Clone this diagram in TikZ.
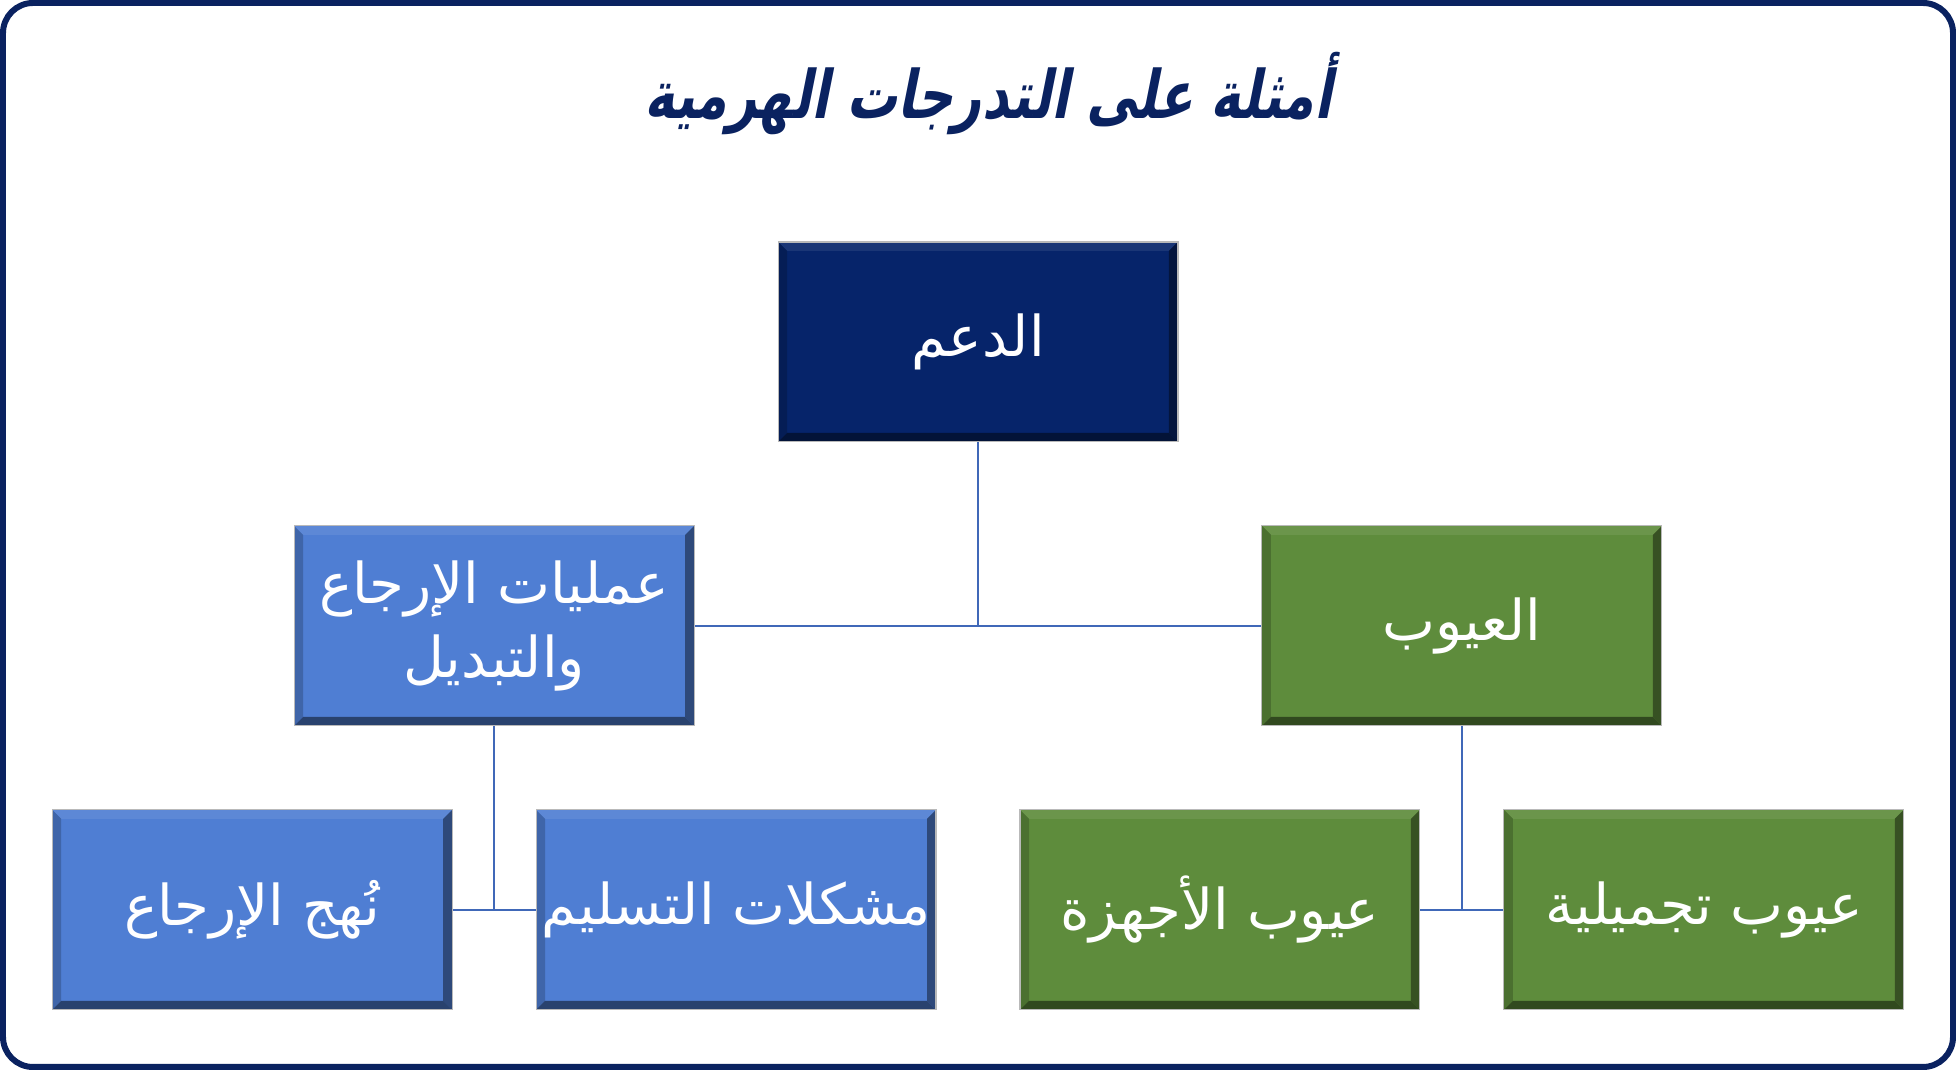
\documentclass[tikz,border=0pt]{standalone}
\usepackage{fontspec}
\usepackage{tikz}
\usetikzlibrary{calc,positioning}
\TeXXeTstate=1
\newfontfamily\arabicfont[Script=Arabic]{DejaVu Sans}
\newfontfamily\titlefont[Script=Arabic,FakeSlant=0.2,FakeStretch=0.76]{DejaVu Sans Bold}
\definecolor{navybox}{HTML}{06246A}
\definecolor{bluebox}{HTML}{4F7ED3}
\definecolor{greenbox}{HTML}{5E8C3C}
\definecolor{framenavy}{HTML}{0A2260}
\definecolor{linkblue}{HTML}{4068B8}
\tikzset{
  bevelbox/.style={draw=gray!55, line width=0.6pt, fill=#1, text=white,
    minimum width=8cm, minimum height=4cm, inner sep=0pt, align=center,
    font=\arabicfont\fontsize{32}{42}\selectfont,
    path picture={
      \fill[#1!92!white] (path picture bounding box.north west) -- (path picture bounding box.north east)
        -- ++(-0.18cm,-0.18cm) -- ($(path picture bounding box.north west)+(0.18cm,-0.18cm)$) -- cycle;
      \fill[#1!80!black] (path picture bounding box.north west) -- (path picture bounding box.south west)
        -- ++(0.18cm,0.18cm) -- ($(path picture bounding box.north west)+(0.18cm,-0.18cm)$) -- cycle;
      \fill[#1!58!black] (path picture bounding box.north east) -- (path picture bounding box.south east)
        -- ++(-0.18cm,0.18cm) -- ($(path picture bounding box.north east)+(-0.18cm,-0.18cm)$) -- cycle;
      \fill[#1!52!black] (path picture bounding box.south west) -- (path picture bounding box.south east)
        -- ++(-0.18cm,0.18cm) -- ($(path picture bounding box.south west)+(0.18cm,0.18cm)$) -- cycle;
    }}
}
\begin{document}
\begin{tikzpicture}[x=0.02cm,y=0.02cm,level distance=5.68cm,
  level 1/.style={sibling distance=19.36cm},level 2/.style={sibling distance=9.68cm},
  edge from parent/.style={draw=linkblue,line width=1.1pt},
  edge from parent path={(\tikzparentnode.south) |- (\tikzchildnode)}]
  \useasboundingbox (0,0) rectangle (1956,1070);
  \draw[framenavy,line width=0.12cm,rounded corners=0.6cm] (3,3) rectangle (1953,1067);
  \node[text=framenavy,font=\titlefont\fontsize{38}{46}\selectfont] (title) at (988,976)
    {\beginR أمثلة على التدرجات الهرمية\endR};
  \node[bevelbox=navybox] (support) at (978,728) {\beginR الدعم\endR}
    child {node[bevelbox=bluebox] (returns) {\beginR عمليات الإرجاع\endR\\\beginR والتبديل\endR}
      child {node[bevelbox=bluebox] (policies) {\beginR نُهج الإرجاع\endR}}
      child {node[bevelbox=bluebox] (delivery) {\beginR مشكلات التسليم\endR}}
    }
    child {node[bevelbox=greenbox] (defects) {\beginR العيوب\endR}
      child {node[bevelbox=greenbox] (hardware) {\beginR عيوب الأجهزة\endR}}
      child {node[bevelbox=greenbox] (cosmetic) {\beginR عيوب تجميلية\endR}}
    };
\end{tikzpicture}
\end{document}
